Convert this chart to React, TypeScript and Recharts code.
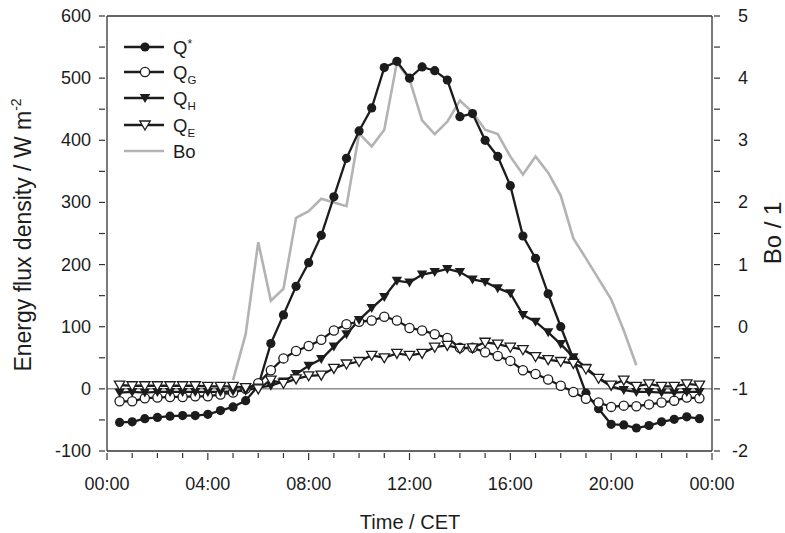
import React from "react";
import { LineChart, Line, XAxis, YAxis, ReferenceLine } from "recharts";

// half-hourly time stamps (hours, CET)
const hours = [
  0.5, 1, 1.5, 2, 2.5, 3, 3.5, 4, 4.5, 5, 5.5, 6, 6.5, 7, 7.5, 8, 8.5, 9, 9.5, 10, 10.5, 11, 11.5, 12,
  12.5, 13, 13.5, 14, 14.5, 15, 15.5, 16, 16.5, 17, 17.5, 18, 18.5, 19, 19.5, 20, 20.5, 21, 21.5, 22,
  22.5, 23, 23.5,
];

// net radiation Q*
const qStar = [
  -54, -53, -48, -46, -44, -43, -43, -41, -35, -29, -19, 5, 73, 119, 165, 203, 247, 309, 371, 415, 452,
  517, 527, 500, 518, 512, 497, 438, 443, 400, 374, 327, 246, 210, 153, 100, 48, -7, -32, -57, -58, -63,
  -59, -53, -49, -45, -48,
];

// ground heat flux Q_G
const qG = [
  -20, -20, -15, -14, -13, -13, -12, -12, -9, -6, 0, 9, 30, 49, 61, 69, 79, 94, 104, 108, 110, 116, 110,
  98, 94, 88, 82, 66, 66, 59, 53, 45, 30, 24, 15, 5, -5, -16, -22, -29, -27, -28, -25, -22, -19, -14,
  -15,
];

// sensible heat flux Q_H
const qH = [
  -6, -5, -6, -5, -5, -5, -5, -5, -5, -4, -3, 2, 5, 12, 24, 37, 48, 68, 88, 111, 130, 148, 174, 171, 184,
  188, 193, 188, 176, 172, 162, 154, 119, 108, 91, 72, 51, 34, 17, 4, -2, -5, -5, -6, -6, -5, -5,
];

// latent heat flux Q_E
const qE = [
  6, 5, 5, 5, 5, 5, 5, 4, 4, 4, 2, 0, 14, 9, 16, 21, 22, 33, 40, 44, 54, 50, 57, 54, 57, 67, 70, 65, 66,
  75, 72, 67, 63, 52, 47, 44, 41, 32, 17, 6, 14, 4, 8, 4, 4, 8, 6,
];

// Bowen ratio (daytime only)
const boHours = [
  5, 5.5, 6, 6.5, 7, 7.5, 8, 8.5, 9, 9.5, 10, 10.5, 11, 11.5, 12, 12.5, 13, 13.5, 14, 14.5, 15, 15.5,
  16, 16.5, 17, 17.5, 18, 18.5, 19, 19.5, 20, 20.5, 21,
];
const bo = [
  -0.86, -0.12, 1.36, 0.42, 0.61, 1.75, 1.86, 2.06, 2.0, 1.94, 3.11, 2.9, 3.17, 4.25, 3.98, 3.32, 3.1,
  3.3, 3.64, 3.45, 3.17, 3.1, 2.74, 2.45, 2.74, 2.48, 2.11, 1.42, 1.1, 0.77, 0.44, -0.06, -0.62,
];

const xTicks = [0, 1, 2, 3, 4, 5, 6, 7, 8, 9, 10, 11, 12, 13, 14, 15, 16, 17, 18, 19, 20, 21, 22, 23, 24];
const leftTicks = [-100, -50, 0, 50, 100, 150, 200, 250, 300, 350, 400, 450, 500, 550, 600];
const rightTicks = [-2, -1.5, -1, -0.5, 0, 0.5, 1, 1.5, 2, 2.5, 3, 3.5, 4, 4.5, 5];

const FONT = "'Liberation Sans', Arial, Helvetica, sans-serif";
const INK = "#1c1c1c";
const AXIS = "#333";
const GREY = "#b3b3b3";

const toSeries = (xs: number[], ys: number[]) => xs.map((t, i) => ({ t, v: ys[i] }));

const fmtHour = (h: number) => `${String(h % 24).padStart(2, "0")}:00`;

function XTick({ x, y, payload }: any) {
  const major = payload.value % 4 === 0;
  return (
    <g>
      <line x1={x} x2={x} y1={y} y2={y + (major ? 7 : 5)} stroke={AXIS} strokeWidth={1.2} />
      {major && (
        <text x={x} y={y + 37} textAnchor="middle" fontSize={18} fill={INK} fontFamily={FONT}>
          {fmtHour(payload.value)}
        </text>
      )}
    </g>
  );
}

function LeftTick({ x, y, payload }: any) {
  const major = payload.value % 100 === 0;
  return (
    <g>
      <line x1={x} x2={x - 6} y1={y} y2={y} stroke={AXIS} strokeWidth={1.2} />
      {major && (
        <text x={x - 14} y={y + 6} textAnchor="end" fontSize={18} fill={INK} fontFamily={FONT}>
          {payload.value}
        </text>
      )}
    </g>
  );
}

function RightTick({ x, y, payload }: any) {
  const major = Number.isInteger(payload.value);
  return (
    <g>
      <line x1={x} x2={x + 6} y1={y} y2={y} stroke={AXIS} strokeWidth={1.2} />
      {major && (
        <text x={x + 34} y={y + 6} textAnchor="end" fontSize={18} fill={INK} fontFamily={FONT}>
          {payload.value}
        </text>
      )}
    </g>
  );
}

const filledCircle = (p: any) => <circle key={p.index} cx={p.cx} cy={p.cy} r={4.6} fill={INK} />;
const openCircle = (p: any) => (
  <circle key={p.index} cx={p.cx} cy={p.cy} r={4.6} fill="#fff" stroke={INK} strokeWidth={1.3} />
);
const tri = (cx: number, cy: number) => `${cx - 5.2},${cy - 4} ${cx + 5.2},${cy - 4} ${cx},${cy + 5}`;
const filledTri = (p: any) => <polygon key={p.index} points={tri(p.cx, p.cy)} fill={INK} />;
const openTri = (p: any) => (
  <polygon key={p.index} points={tri(p.cx, p.cy)} fill="#fff" stroke={INK} strokeWidth={1.3} />
);

function LegendRow({ y, marker, grey, children }: any) {
  return (
    <g>
      <line x1={124} x2={164} y1={y} y2={y} stroke={grey ? GREY : INK} strokeWidth={grey ? 2.6 : 2.3} />
      {marker === "fc" && <circle cx={145} cy={y} r={4.6} fill={INK} />}
      {marker === "oc" && <circle cx={145} cy={y} r={4.6} fill="#fff" stroke={INK} strokeWidth={1.3} />}
      {marker === "ft" && <polygon points={tri(145, y)} fill={INK} />}
      {marker === "ot" && <polygon points={tri(145, y)} fill="#fff" stroke={INK} strokeWidth={1.3} />}
      <text x={173} y={y + 7} fontSize={18.5} fill={INK} fontFamily={FONT}>
        {children}
      </text>
    </g>
  );
}

export default function App() {
  return (
    <div style={{ position: "absolute", left: 0, top: 0, width: 785, height: 533, background: "#fff" }}>
      <LineChart width={785} height={533} margin={{ top: 16, right: 0, bottom: 0, left: 0 }}>
        <XAxis
          dataKey="t"
          type="number"
          domain={[0, 24]}
          ticks={xTicks}
          interval={0}
          height={82}
          tickSize={0}
          tickLine={false}
          tick={<XTick />}
          axisLine={{ stroke: AXIS, strokeWidth: 1.3 }}
          allowDuplicatedCategory={false}
        />
        <YAxis
          yAxisId="left"
          type="number"
          domain={[-100, 600]}
          ticks={leftTicks}
          interval={0}
          width={107}
          tickSize={0}
          tickLine={false}
          tick={<LeftTick />}
          axisLine={{ stroke: AXIS, strokeWidth: 1.3 }}
        />
        <YAxis
          yAxisId="right"
          orientation="right"
          type="number"
          domain={[-2, 5]}
          ticks={rightTicks}
          interval={0}
          width={73}
          tickSize={0}
          tickLine={false}
          tick={<RightTick />}
          axisLine={{ stroke: AXIS, strokeWidth: 1.3 }}
        />
        <ReferenceLine yAxisId="left" y={600} stroke={AXIS} strokeWidth={1.3} />
        <ReferenceLine yAxisId="left" y={0} stroke="#555" strokeWidth={1} />
        <Line
          yAxisId="right"
          data={toSeries(boHours, bo)}
          dataKey="v"
          type="linear"
          stroke={GREY}
          strokeWidth={2.6}
          dot={false}
          isAnimationActive={false}
        />
        <Line yAxisId="left" data={toSeries(hours, qStar)} dataKey="v" type="linear" stroke={INK} strokeWidth={2.3} dot={filledCircle} isAnimationActive={false} />
        <Line yAxisId="left" data={toSeries(hours, qG)} dataKey="v" type="linear" stroke={INK} strokeWidth={2.3} dot={openCircle} isAnimationActive={false} />
        <Line yAxisId="left" data={toSeries(hours, qH)} dataKey="v" type="linear" stroke={INK} strokeWidth={2.3} dot={filledTri} isAnimationActive={false} />
        <Line yAxisId="left" data={toSeries(hours, qE)} dataKey="v" type="linear" stroke={INK} strokeWidth={2.3} dot={openTri} isAnimationActive={false} />
      </LineChart>

      {/* legend and axis titles */}
      <svg width={785} height={533} style={{ position: "absolute", left: 0, top: 0, pointerEvents: "none" }}>
        <LegendRow y={47} marker="fc">
          Q<tspan fontSize={12} dy={-6}>*</tspan>
        </LegendRow>
        <LegendRow y={72} marker="oc">
          Q<tspan fontSize={11.5} dy={5}>G</tspan>
        </LegendRow>
        <LegendRow y={98} marker="ft">
          Q<tspan fontSize={11.5} dy={5}>H</tspan>
        </LegendRow>
        <LegendRow y={125} marker="ot">
          Q<tspan fontSize={11.5} dy={5}>E</tspan>
        </LegendRow>
        <LegendRow y={151} grey>
          Bo
        </LegendRow>

        <text
          transform="translate(31,235) rotate(-90)"
          textAnchor="middle"
          fontSize={23}
          fill={INK}
          fontFamily={FONT}
        >
          Energy flux density / W m<tspan fontSize={14} dy={-10}>-2</tspan>
        </text>
        <text
          transform="translate(781,233) rotate(-90)"
          textAnchor="middle"
          fontSize={24}
          fill={INK}
          fontFamily={FONT}
        >
          Bo / 1
        </text>
        <text x={410} y={529} textAnchor="middle" fontSize={20} fill={INK} fontFamily={FONT}>
          Time / CET
        </text>
      </svg>
    </div>
  );
}
